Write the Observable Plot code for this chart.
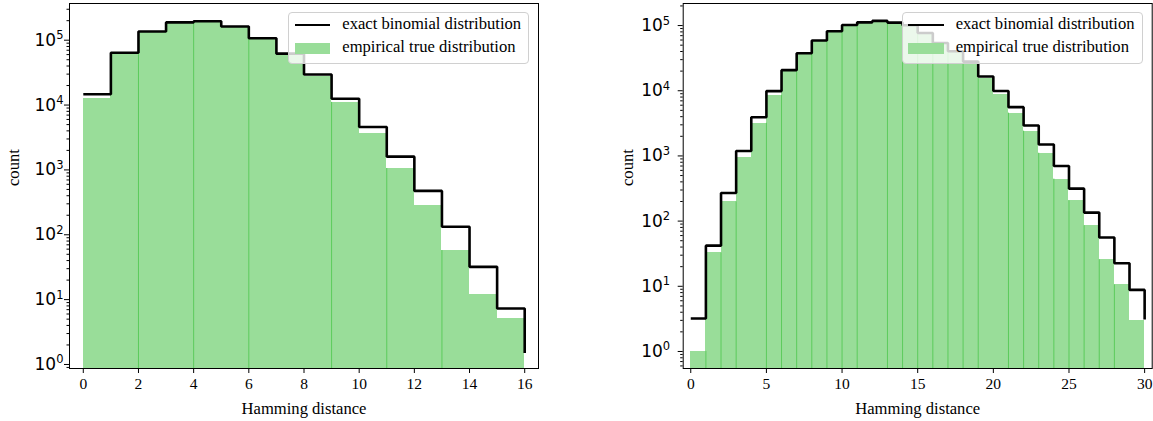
<!DOCTYPE html>
<html>
<head>
<meta charset="utf-8">
<script src="https://cdn.jsdelivr.net/npm/d3@7"></script>
<script src="https://cdn.jsdelivr.net/npm/@observablehq/plot@0.6"></script>
<style>
  html, body { margin: 0; padding: 0; background: #fff; }
  #wrap { position: relative; width: 1153px; height: 421px; overflow: hidden; }
  #wrap svg { position: absolute; top: 0; }
  .legend { position: absolute; box-sizing: border-box; border: 1px solid #d0d0d0; border-radius: 4px;
            background: rgba(255,255,255,0.8); font-family: "Liberation Serif", "Times New Roman", serif; font-size: 16.6px; color: #000; }
  .legend .hl { position: absolute; height: 2.6px; background: #000; }
  .legend .hp { position: absolute; background: #99dd99; }
  .legend .tx { position: absolute; line-height: 1; white-space: nowrap; }
</style>
</head>
<body>
<div id="wrap"></div>
<script>
// ---------- data ----------
// Left panel (Hamming distance 0..16)
const leftExact = [14700, 64000, 136000, 188000, 196000, 163000, 107000, 62000, 29600, 12500, 4600, 1600, 475, 133, 32, 7.3, 1.5];
const leftEmpirical = [12700, 59600, 130000, 182000, 195000, 158000, 105000, 60000, 27500, 11000, 3680, 1050, 281, 57, 11.9, 5.1];
const leftXTicks = [0, 2, 4, 6, 8, 10, 12, 14, 16];
const leftSeams = [2, 4, 6, 9, 11, 13];

// Right panel (Hamming distance 0..30)
const rightExact = [3.2, 42, 270, 1190, 3930, 9870, 20700, 37700, 59000, 82000, 102000, 112000, 118000, 111000, 101000, 77000, 54000, 40300, 28000, 16500, 9900, 5600, 2930, 1500, 700, 315, 135, 56, 22.6, 8.8, 3.1];
const rightEmpirical = [1, 32.5, 198, 945, 3170, 8430, 19400, 36400, 56000, 79000, 99000, 109000, 113000, 107000, 98000, 74000, 52000, 38000, 26000, 15300, 8700, 4530, 2400, 1100, 441, 205, 85, 25.5, 10.5, 3];
const rightXTicks = [0, 5, 10, 15, 20, 25, 30];
const rightSeams = [1, 2, 3, 5, 6, 7, 8, 9, 10, 11, 13, 14, 15, 16, 17, 18, 19, 21, 22, 23, 24, 25, 26, 27, 28];

const yTickExps = [0, 1, 2, 3, 4, 5];
const legendLabels = ["exact binomial distribution", "empirical true distribution"];
const xLabel = "Hamming distance";
const yLabel = "count";

// ---------- drawing ----------
const FILL = "#99dd99";
const SEAM = "#5ccb5c";
const SERIF = "Liberation Serif, Times New Roman, serif";

function panel(cfg) {
  const {exact, empirical, xTicks, seams, xDomain, yDomain, left, width, marginLeft, marginRight, yPad} = cfg;
  const bars = empirical.map((v, i) => ({x1: i, x2: i + 1, v}));
  const steps = exact.map((v, i) => ({x: i, v}));
  const seamData = seams.map(e => ({x: e, top: Math.min(empirical[e - 1], empirical[e])}));
  const majors = yTickExps.map(k => Math.pow(10, k));
  const minors = [];
  for (let k = -1; k <= 5; k++) for (let m = 2; m <= 9; m++) {
    const v = m * Math.pow(10, k);
    if (v >= yDomain[0] && v <= yDomain[1]) minors.push(v);
  }
  const yMin = yDomain[0];
  const svg = Plot.plot({
    width, height: 421,
    marginLeft, marginRight, marginTop: 3, marginBottom: 53,
    x: {domain: xDomain},
    y: {type: "log", domain: yDomain},
    style: {background: "transparent", overflow: "visible"},
    marks: [
      Plot.rect(bars, {x1: "x1", x2: "x2", y1: () => yMin, y2: "v", fill: FILL, clip: true, shapeRendering: "crispEdges"}),
      Plot.ruleX(seamData, {x: "x", y1: () => yMin, y2: "top", stroke: SEAM, strokeWidth: 1}),
      Plot.line(steps, {x: "x", y: "v", curve: "step-after", stroke: "#000", strokeWidth: 2.6, strokeLinejoin: "miter", strokeLinecap: "butt"}),
      Plot.frame({stroke: "#000", strokeWidth: 1}),
      Plot.axisX({ticks: xTicks, tickSize: 5, tickPadding: 4, tickFormat: d => String(d), label: null,
                  fontFamily: SERIF, fontSize: 15.5, stroke: "#000"}),
      Plot.axisY({ticks: minors, tickSize: 2.5, tickFormat: () => "", label: null, stroke: "#000"}),
      Plot.axisY({ticks: majors, tickSize: 5, tickPadding: yPad, label: null,
                  tickFormat: d => "10^" + Math.round(Math.log10(d)),
                  fontFamily: "DejaVu Sans, sans-serif", fontSize: 17, stroke: "#000"}),
      Plot.text([yLabel], {frameAnchor: "left", dx: -56, rotate: -90, text: d => d,
                  fontFamily: SERIF, fontSize: 16.6, fill: "#000"}),
      Plot.text([xLabel], {frameAnchor: "bottom", dy: 40, lineAnchor: "middle", text: d => d,
                  fontFamily: SERIF, fontSize: 16.6, fill: "#000"})
    ]
  });
  svg.style.left = left + "px";
  // superscript exponents on the y tick labels
  svg.querySelectorAll('g[aria-label="y-axis tick label"] text').forEach(t => {
    const s = t.textContent;
    if (!s.includes("^")) return;
    const [base, exp] = s.split("^");
    t.textContent = "";
    const a = document.createElementNS("http://www.w3.org/2000/svg", "tspan");
    a.textContent = base;
    const b = document.createElementNS("http://www.w3.org/2000/svg", "tspan");
    b.textContent = exp;
    b.setAttribute("font-size", "11.5");
    b.setAttribute("dy", "-6.5");
    t.appendChild(a); t.appendChild(b);
  });
  return svg;
}

const wrap = document.getElementById("wrap");
wrap.appendChild(panel({
  exact: leftExact, empirical: leftEmpirical, xTicks: leftXTicks, seams: leftSeams,
  xDomain: [-0.5, 16.5], yDomain: [0.867, 368000],
  left: 0, width: 576, marginLeft: 69, marginRight: 38, yPad: 1
}));
wrap.appendChild(panel({
  exact: rightExact, empirical: rightEmpirical, xTicks: rightXTicks, seams: rightSeams,
  xDomain: [-0.5, 30.5], yDomain: [0.548, 218000],
  left: 576, width: 577, marginLeft: 106.7, marginRight: 1.3, yPad: 8
}));

function legend(left) {
  const d = document.createElement("div");
  d.className = "legend";
  d.style.left = left + "px"; d.style.top = "11.7px";
  d.style.width = "241px"; d.style.height = "52px";
  const hl = document.createElement("div"); hl.className = "hl";
  hl.style.left = "5.5px"; hl.style.width = "35.5px"; hl.style.top = "11px";
  const hp = document.createElement("div"); hp.className = "hp";
  hp.style.left = "5.5px"; hp.style.width = "35.5px"; hp.style.top = "30.5px"; hp.style.height = "11px";
  const t1 = document.createElement("div"); t1.className = "tx";
  t1.style.left = "53px"; t1.style.top = "3px"; t1.textContent = legendLabels[0];
  const t2 = document.createElement("div"); t2.className = "tx";
  t2.style.left = "53px"; t2.style.top = "26px"; t2.textContent = legendLabels[1];
  d.append(hl, hp, t1, t2);
  wrap.appendChild(d);
}
legend(288.3);
legend(901.7);
</script>
</body>
</html>
